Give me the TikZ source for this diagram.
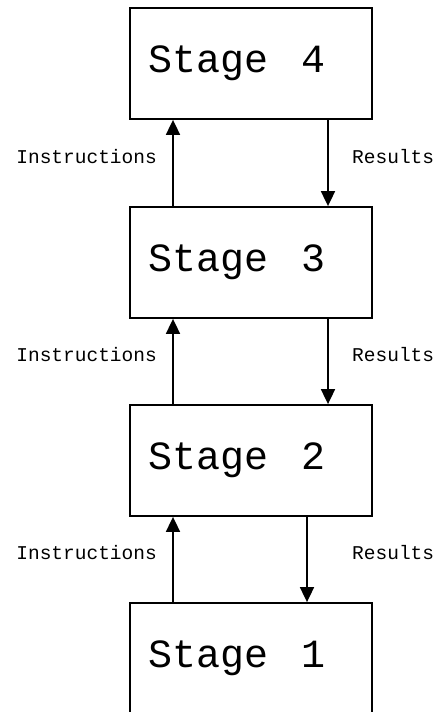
\documentclass[tikz,border=0pt]{standalone}
\usepackage{fontspec}
\setmonofont{Liberation Mono}[WordSpace={1,0,0}]
\usetikzlibrary{arrows.meta}
\newcommand\stagename[1]{Stage~\hspace{0.5em}#1}
\tikzset{
  stagebox/.style={draw, line width=1.8pt, minimum height=111pt, text width=206pt,
    inner xsep=18pt, inner ysep=0pt, align=left,
    font=\ttfamily\fontsize{40}{42}\selectfont},
  flow/.style={line width=1.8pt, -{Triangle[width=14pt,length=15pt]}},
  lbl/.style={font=\ttfamily\fontsize{19.5}{20}\selectfont, inner sep=0pt}
}
\begin{document}
\begin{tikzpicture}[x=1pt,y=-1pt]
  \useasboundingbox (0,0) rectangle (439,712);
  \clip (0,0) rectangle (439,712);
  % stacked stages
  \node[stagebox] (s4) at (251,63.5) {\stagename{4}};
  \node[stagebox] (s3) at (251,262.5) {\stagename{3}};
  \node[stagebox] (s2) at (251,460.5) {\stagename{2}};
  \node[stagebox] (s1) at (251,658.5) {\stagename{1}};
  % instructions go up on the left side
  \draw[flow] (s3.north -| 173,0) -- (s4.south -| 173,0);
  \draw[flow] (s2.north -| 173,0) -- (s3.south -| 173,0);
  \draw[flow] (s1.north -| 173,0) -- (s2.south -| 173,0);
  % results come down on the right side
  \draw[flow] (s4.south -| 328,0) -- (s3.north -| 328,0);
  \draw[flow] (s3.south -| 328,0) -- (s2.north -| 328,0);
  \draw[flow] (s2.south -| 307,0) -- (s1.north -| 307,0);
  % labels
  \node[lbl, anchor=east] (i43) at (157,157) {Instructions};
  \node[lbl, anchor=east] (i32) at (157,355) {Instructions};
  \node[lbl, anchor=east] (i21) at (157,553) {Instructions};
  \node[lbl, anchor=west] (r43) at (352,157) {Results};
  \node[lbl, anchor=west] (r32) at (352,355) {Results};
  \node[lbl, anchor=west] (r21) at (352,553) {Results};
\end{tikzpicture}
\end{document}
